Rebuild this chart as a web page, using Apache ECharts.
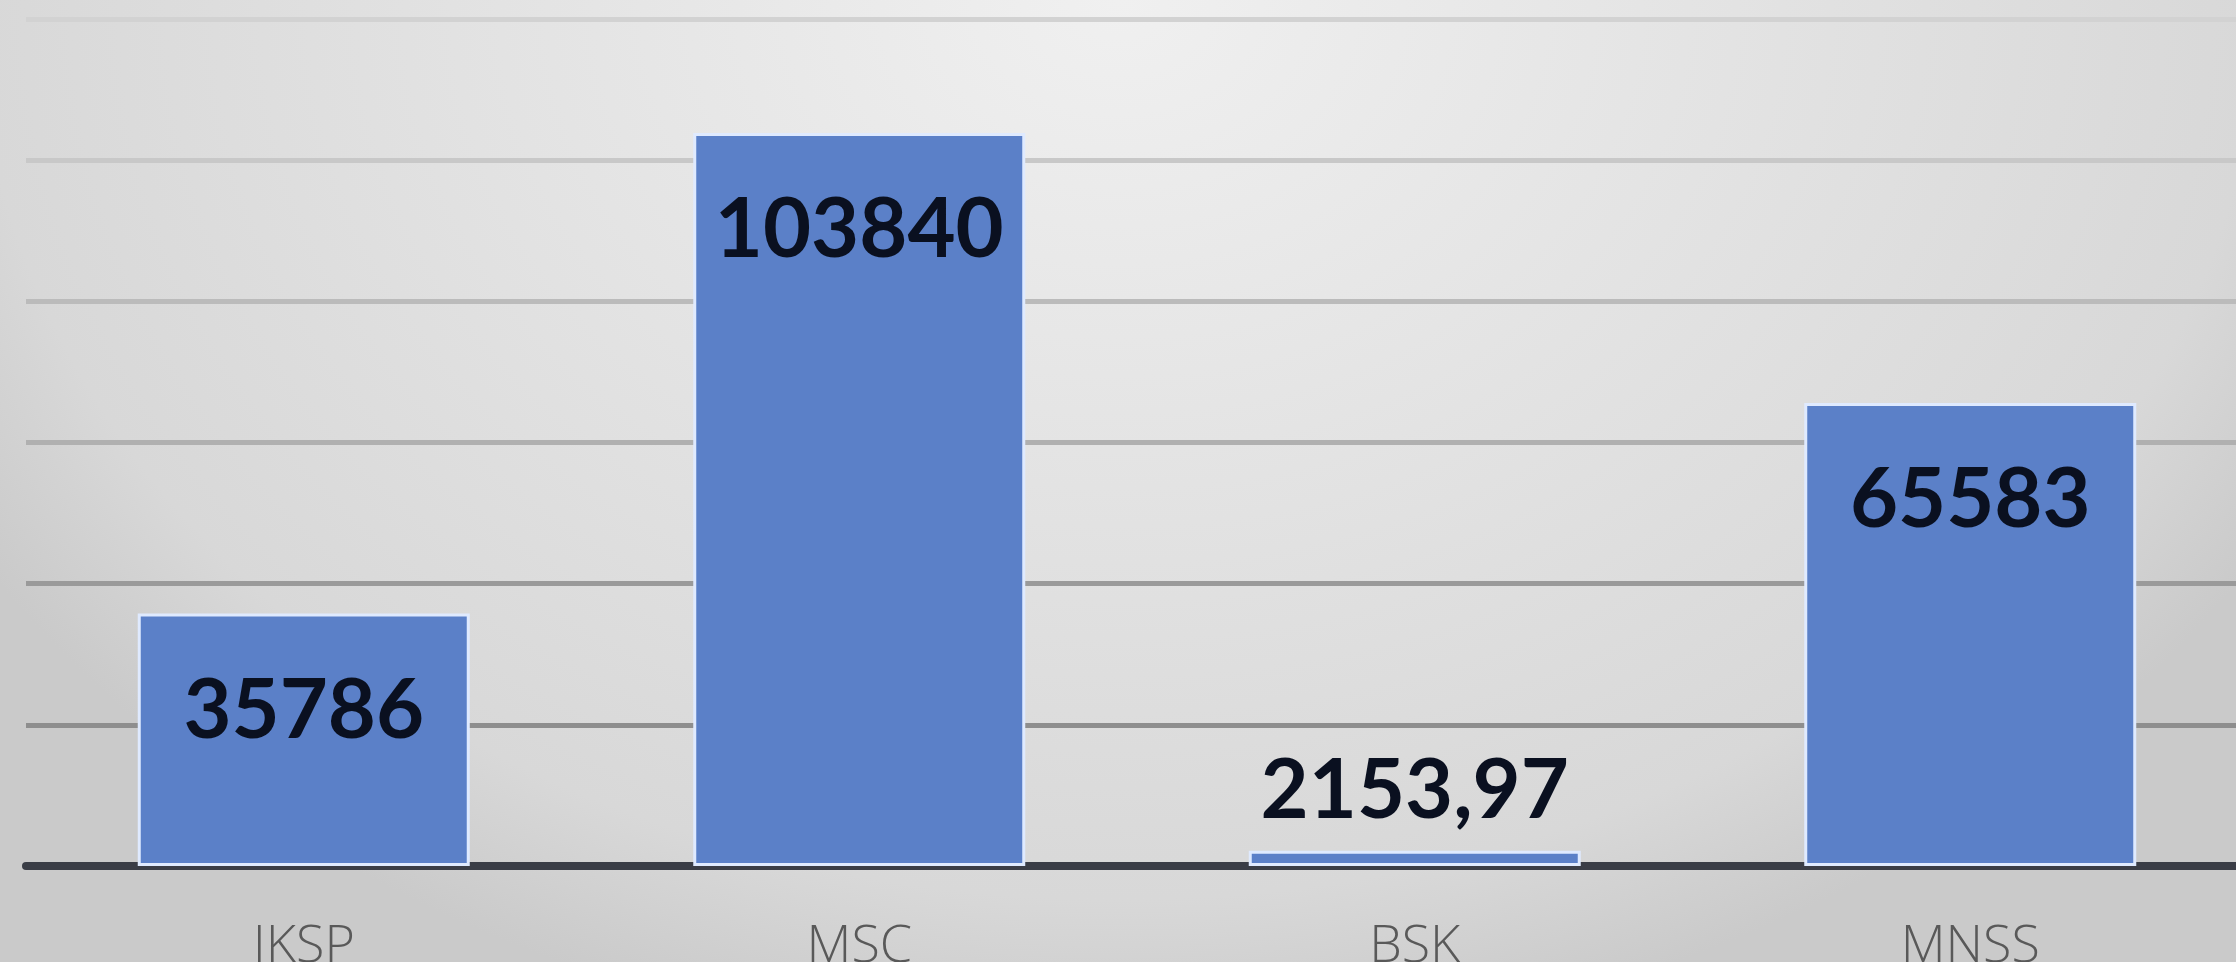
<!DOCTYPE html>
<html>
<head>
<meta charset="utf-8">
<script src="https://cdn.jsdelivr.net/npm/echarts@6/dist/echarts.min.js"></script>
<style>
    html, body { margin: 0; padding: 0; }
    #chart {
        width: 2236px;
        height: 962px;
        background: radial-gradient(ellipse 60% 110% at 50% 0%, #f0f0f0 0%, #d8d8d8 85%, #cacaca 100%);
    }
</style>
</head>
<body>
<div id="chart"></div>
<script>
// kategorije i vrijednosti
const categories = ['IKSP', 'MSC', 'BSK', 'MNSS']
const values = [35786, 103840, 2153.97, 65583]
// gridlines get darker towards the bottom
const gridColors = ['#8c8c8c', '#8e8e8e', '#9a9a9a', '#b0b0b0', '#bbbbbb', '#c8c8c8', '#d2d2d2']

const myChart = echarts.init(document.getElementById('chart'), null, { renderer: 'canvas' })

const labelStyle = {
    show: true,
    fontFamily: 'Lato',
    fontWeight: 'bold',
    fontSize: 83,
    lineHeight: 83,
    color: '#0a1020',
    formatter: p => String(p.value).replace('.', ',')
}

const option = {
    backgroundColor: 'transparent',
    animation: false,
    grid: {
        // the picture is cropped: labels run off the bottom and the plot off the right
        outerBoundsMode: 'none',
        containLabel: false,
        left: 26,
        right: -12,
        top: 19,
        bottom: 96
    },
    xAxis: {
        type: 'category',
        data: categories,
        axisTick: { show: false },
        axisLine: {
            lineStyle: { color: '#3a3d46', width: 8 }
        },
        axisLabel: {
            margin: 55,
            fontFamily: 'Open Sans',
            fontWeight: 300,
            fontSize: 52,
            color: '#595959'
        }
    },
    yAxis: {
        type: 'value',
        min: 0,
        max: 120000,
        interval: 20000,
        axisLabel: { show: false },
        axisLine: { show: false },
        axisTick: { show: false },
        splitLine: {
            lineStyle: { color: gridColors, width: 5 }
        }
    },
    series: [
        {
            type: 'bar',
            barWidth: 332,
            data: values.map(v => ({
                value: v,
                // small bar: label goes above it
                label: v < 10000 ? { position: 'top', distance: 18 } : { position: 'insideTop', distance: 56 }
            })),
            itemStyle: {
                color: '#5b80c8',
                borderColor: '#dfeaff',
                borderWidth: 3
            },
            label: labelStyle
        }
    ]
}
myChart.setOption(option)
window.addEventListener('resize', () => { myChart.resize() })
</script>
</body>
</html>
